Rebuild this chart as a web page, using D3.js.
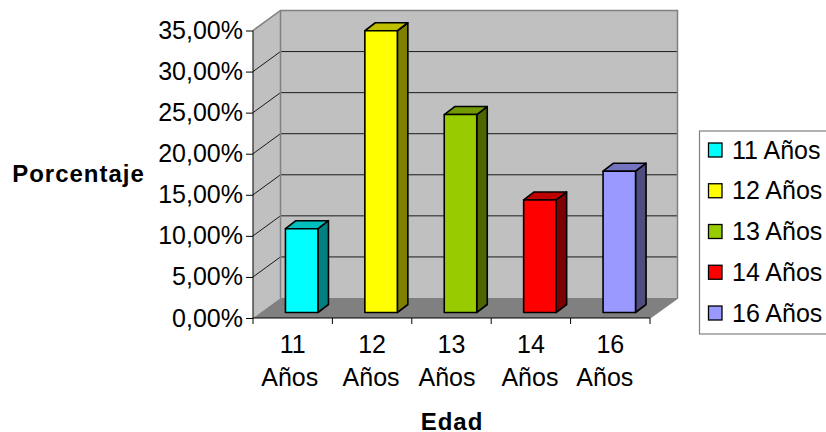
<!DOCTYPE html>
<html>
<head>
<meta charset="utf-8">
<script src="https://cdn.jsdelivr.net/npm/d3@7"></script>
<style>
html, body { margin: 0; padding: 0; background: #fff; overflow: hidden; }
svg { display: block; }
text { font-family: "Liberation Sans", Arial, sans-serif; fill: #000; }
</style>
</head>
<body>
<div id="chart"></div>
<script>
// data
var categories = ["11 Años", "12 Años", "13 Años", "14 Años", "16 Años"];
var values = [10.2, 34.3, 24.1, 13.7, 17.2];
var yTicks = [0, 5, 10, 15, 20, 25, 30, 35];
var colors = ["#00FFFF", "#FFFF00", "#99CC00", "#FF0000", "#9999FF"];
var sideColors = ["#008080", "#808000", "#4D6600", "#800000", "#4D4D80"];
var topColors = ["#00BFBF", "#BFBF00", "#739900", "#BF0000", "#7373BF"];

var w = 826, h = 432;
var x0 = 253, x1 = 650, yBase = 318, yTop = 30.5;
var depthX = 27.5, depthY = -20;   // depth of the floor
var barDX = 10.5, barDY = -8;      // depth of a bar
var wordDX = [-3, -1, -4.5, -1, -5.5]; // second line of the labels sits a bit left
var fontSize = "25px";

var locale = d3.formatLocale({ decimal: ",", thousands: ".", grouping: [3], currency: ["", ""] });
var fmt = locale.format(".2f");

var x = d3.scaleBand().domain(categories).range([x0, x1]);
var y = d3.scaleLinear().domain([0, 35]).range([yBase, yTop]);

var svg = d3.select("#chart").append("svg").attr("width", w).attr("height", h);

function pts(a) { return a.map(function(p) { return p.join(","); }).join(" "); }

// walls and floor
svg.append("polygon").attr("fill", "#C0C0C0").attr("stroke", "none")
    .attr("points", pts([[x0, yTop], [x0 + depthX, yTop + depthY], [x1 + depthX, yTop + depthY], [x1 + depthX, yBase + depthY], [x0 + depthX, yBase + depthY], [x0, yBase]]));
svg.append("polygon").attr("fill", "#808080")
    .attr("points", pts([[x0, yBase], [x0 + depthX, yBase + depthY], [x1 + depthX, yBase + depthY], [x1, yBase]]));

// gridlines on the two walls
svg.selectAll(".grid").data(yTicks.slice(1, -1)).enter().append("polyline")
    .attr("class", "grid").attr("fill", "none").attr("stroke", "#1a1a1a").attr("stroke-width", 1)
    .attr("points", function(d) {
        return pts([[x0, y(d)], [x0 + depthX, y(d) + depthY], [x1 + depthX, y(d) + depthY]]);
    });

// wall borders
svg.append("polyline").attr("fill", "none").attr("stroke", "#808080").attr("stroke-width", 1.5)
    .attr("points", pts([[x0, yTop], [x0 + depthX, yTop + depthY], [x1 + depthX, yTop + depthY], [x1 + depthX, yBase + depthY], [x1, yBase]]));
svg.append("line").attr("stroke", "#808080").attr("stroke-width", 1.5)
    .attr("x1", x0 + depthX).attr("x2", x0 + depthX).attr("y1", yTop + depthY).attr("y2", yBase + depthY);

// axes
var yAxis = d3.axisLeft(y).tickValues(yTicks).tickSize(7).tickPadding(3)
    .tickFormat(function(d) { return fmt(d) + "%"; });
var gy = svg.append("g").attr("transform", "translate(" + x0 + ",0)").call(yAxis);
gy.select(".domain").attr("stroke", "#000").attr("d", "M0," + yTop + "V" + yBase);
gy.selectAll("text").style("font-size", fontSize);

var xAxis = d3.axisBottom(x).tickSize(0).tickFormat("");
var gx = svg.append("g").attr("transform", "translate(0," + yBase + ")").call(xAxis);
gx.select(".domain").attr("stroke", "#000").attr("d", "M" + x0 + ",0H" + x1);
gx.selectAll(".sep").data(d3.range(categories.length + 1)).enter().append("line")
    .attr("class", "sep").attr("stroke", "#000")
    .attr("x1", function(i) { return x0 + i * x.bandwidth(); })
    .attr("x2", function(i) { return x0 + i * x.bandwidth(); })
    .attr("y1", 0).attr("y2", 6);

// two line category labels
var catLabel = svg.selectAll(".cat").data(categories).enter().append("text")
    .attr("class", "cat").attr("text-anchor", "middle").style("font-size", fontSize)
    .attr("transform", function(d) { return "translate(" + (x(d) + x.bandwidth() / 2) + ",0)"; });
catLabel.append("tspan").attr("x", 0).attr("y", 352.5).text(function(d) { return d.split(" ")[0]; });
catLabel.append("tspan").attr("x", function(d, i) { return wordDX[i]; }).attr("y", 386).text(function(d) { return d.split(" ")[1]; });

// bars
var barW = 32.5;
var barY = d3.scaleLinear().domain([0, 35]).range([312.5, 25]);
var bar = svg.selectAll(".bar").data(values).enter().append("g").attr("class", "bar")
    .attr("stroke", "#000").attr("stroke-width", 1.6).attr("stroke-linejoin", "round");

function barX(i) { return x(categories[i]) + x.bandwidth() / 2 - barW / 2 + 9; }

bar.append("polygon").attr("fill", function(d, i) { return sideColors[i]; })
    .attr("points", function(d, i) {
        var r = barX(i) + barW;
        return pts([[r, barY(d)], [r + barDX, barY(d) + barDY], [r + barDX, barY(0) + barDY], [r, barY(0)]]);
    });
bar.append("polygon").attr("fill", function(d, i) { return topColors[i]; })
    .attr("points", function(d, i) {
        var l = barX(i), t = barY(d);
        return pts([[l, t], [l + barDX, t + barDY], [l + barW + barDX, t + barDY], [l + barW, t]]);
    });
bar.append("rect").attr("fill", function(d, i) { return colors[i]; })
    .attr("x", function(d, i) { return barX(i); })
    .attr("y", function(d) { return barY(d); })
    .attr("width", barW)
    .attr("height", function(d) { return barY(0) - barY(d); });

// axis titles
svg.append("text").attr("x", 78.5).attr("y", 182).attr("text-anchor", "middle")
    .style("font-size", "24px").style("font-weight", "bold").style("letter-spacing", "1px").text("Porcentaje");
svg.append("text").attr("x", 452).attr("y", 430).attr("text-anchor", "middle")
    .style("font-size", "24px").style("font-weight", "bold").style("letter-spacing", "1px").text("Edad");

// legend
var legY = d3.scalePoint().domain(categories).range([150, 313]);
svg.append("rect").attr("x", 699.5).attr("y", 131).attr("width", 140).attr("height", 203)
    .attr("fill", "#fff").attr("stroke", "#808080").attr("stroke-width", 1.2);
var leg = svg.selectAll(".leg").data(categories).enter().append("g").attr("class", "leg")
    .attr("transform", function(d) { return "translate(0," + legY(d) + ")"; });
leg.append("rect").attr("x", 708.5).attr("y", -7).attr("width", 13.5).attr("height", 14)
    .attr("fill", function(d, i) { return colors[i]; }).attr("stroke", "#000").attr("stroke-width", 1.3);
leg.append("text").attr("x", 732).attr("y", 8.5).style("font-size", fontSize).text(function(d) { return d; });
</script>
</body>
</html>
